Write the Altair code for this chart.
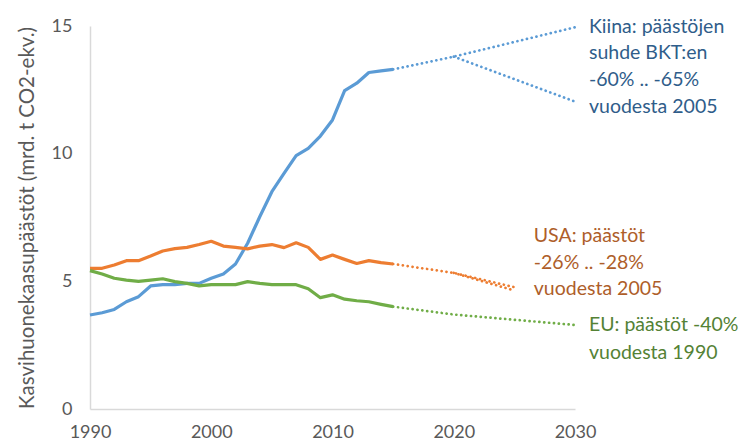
import altair as alt
import pandas as pd

years = list(range(1990, 2016))
china = [3.68, 3.77, 3.90, 4.20, 4.40, 4.82, 4.87, 4.87, 4.92, 4.92,
         5.12, 5.29, 5.68, 6.49, 7.53, 8.51, 9.23, 9.92, 10.21, 10.69,
         11.32, 12.47, 12.76, 13.18, 13.24, 13.30]
usa = [5.51, 5.51, 5.64, 5.81, 5.81, 5.99, 6.19, 6.28, 6.33, 6.44,
       6.57, 6.38, 6.33, 6.27, 6.38, 6.44, 6.32, 6.51, 6.33, 5.86,
       6.03, 5.86, 5.70, 5.81, 5.73, 5.68]
eu = [5.42, 5.29, 5.12, 5.05, 5.00, 5.05, 5.10, 4.99, 4.92, 4.82,
      4.87, 4.87, 4.87, 4.99, 4.92, 4.87, 4.87, 4.87, 4.71, 4.36,
      4.47, 4.30, 4.24, 4.20, 4.10, 4.01]

# forecast (dotted) paths
fc_series = ["Kiina_a", "Kiina_a", "Kiina_a", "Kiina_b", "Kiina_b",
             "USA_a", "USA_a", "USA_a", "USA_b", "USA_b",
             "EU_a", "EU_a", "EU_a"]
fc_group = ["Kiina", "Kiina", "Kiina", "Kiina", "Kiina",
            "USA", "USA", "USA", "USA", "USA",
            "EU", "EU", "EU"]
fc_year = [2015, 2020, 2030, 2020, 2030,
           2015, 2020, 2025, 2020, 2025,
           2015, 2020, 2030]
fc_value = [13.30, 13.80, 14.95, 13.80, 12.04,
            5.68, 5.33, 4.77, 5.33, 4.64,
            4.01, 3.70, 3.29]

# annotation texts with anchor (year, value)
ann_text = ["Kiina: päästöjen", "suhde BKT:en", "-60% .. -65%", "vuodesta 2005",
            "USA: päästöt", "-26% .. -28%", "vuodesta 2005",
            "EU: päästöt -40%", "vuodesta 1990"]
ann_group = ["Kiina"] * 4 + ["USA"] * 3 + ["EU"] * 2
ann_year = [2031.15] * 4 + [2026.6] * 3 + [2031.15] * 2
ann_value = [14.96, 13.94, 12.89, 11.83, 6.79, 5.73, 4.70, 3.29, 2.18]

groups = ["Kiina", "USA", "EU"]
line_colors = ["#5B9BD5", "#ED7D31", "#70AD47"]
text_colors = ["#2F5D8A", "#AE5E2A", "#548235"]

hist = pd.DataFrame({
    "year": years * 3,
    "value": china + usa + eu,
    "group": ["Kiina"] * len(years) + ["USA"] * len(years) + ["EU"] * len(years),
})
fc = pd.DataFrame({"series": fc_series, "group": fc_group, "year": fc_year, "value": fc_value})
ann = pd.DataFrame({"text": ann_text, "group": ann_group, "year": ann_year, "value": ann_value})

FONT = "Lato"
xscale = alt.Scale(domain=[1990, 2030], nice=False, zero=False)
yscale = alt.Scale(domain=[0, 15], nice=False)

x_enc = alt.X("year:Q", scale=xscale,
              axis=alt.Axis(values=[1990, 2000, 2010, 2020, 2030], format="d",
                            title=None, grid=False, ticks=False,
                            domainColor="#D9D9D9", domainWidth=1.5,
                            labelColor="#595959", labelFontSize=18, labelFont=FONT,
                            labelPadding=14, labelFlush=False))
y_enc = alt.Y("value:Q", scale=yscale,
              axis=alt.Axis(values=[0, 5, 10, 15], title="Kasvihuonekaasupäästöt (mrd. t CO2-ekv.)",
                            grid=False, ticks=False, domainColor="#D9D9D9", domainWidth=1.5,
                            labelColor="#595959", labelFontSize=18, labelFont=FONT,
                            labelPadding=18, titleFont=FONT, titleFontSize=20.5,
                            titleFontWeight="normal", titleColor="#595959", titlePadding=14))

lcolor = alt.Color("group:N", scale=alt.Scale(domain=groups, range=line_colors), legend=None)

solid = alt.Chart(hist).mark_line(strokeWidth=3.2, strokeJoin="round").encode(
    x=x_enc, y=y_enc, color=lcolor, detail="group:N")

dotted = alt.Chart(fc).mark_line(strokeWidth=2.7, strokeDash=[0.1, 4.8], strokeCap="round").encode(
    x="year:Q", y="value:Q", color=alt.Color("group:N", scale=alt.Scale(domain=groups, range=line_colors), legend=None),
    detail="series:N", order="year:Q")

texts = alt.Chart(ann).mark_text(align="left", baseline="middle", font=FONT, fontSize=19.5).encode(
    x="year:Q", y="value:Q",
    color=alt.Color("group:N", scale=alt.Scale(domain=groups, range=text_colors), legend=None),
    text="text:N")

chart = alt.layer(solid, dotted, texts).resolve_scale(color="independent").properties(
    width=485, height=383,
    autosize=alt.AutoSizeParams(type="none"),
    padding={"left": 82, "top": 18, "right": 170, "bottom": 34},
).configure_view(stroke=None)

chart.save("out.html", embed_options={"renderer": "svg", "actions": False})
